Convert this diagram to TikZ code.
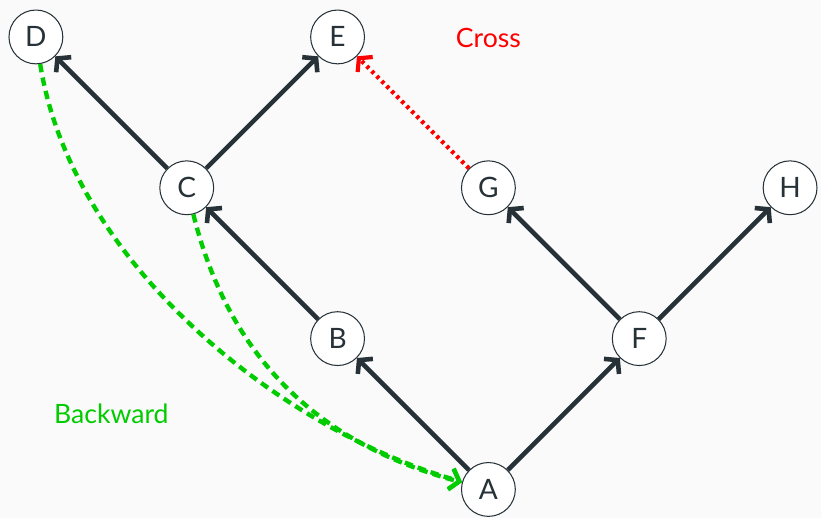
\documentclass[tikz,border=0pt]{standalone}
\usepackage{fontspec}
\setmainfont{Lato}
\usepackage{tikz}
\usetikzlibrary{arrows.meta}
\definecolor{slate}{HTML}{263238}
\definecolor{backgreen}{HTML}{00CC00}
\tikzset{vert/.style={circle, draw=slate, line width=.5pt, fill=white, text=slate, minimum size=9.1mm, inner sep=0, font=\fontsize{13.5}{15}\selectfont}}
\tikzset{treeedge/.style={slate, line width=2.2pt, -{Straight Barb[length=1.5mm,width=3.6mm,line width=2.2pt]}}}
\tikzset{backedge/.style={backgreen, line width=2.1pt, dash pattern=on 4pt off 2.6pt, -{Straight Barb[length=1.5mm,width=3.6mm,line width=2pt]}}}
\tikzset{crossedge/.style={red, line width=2pt, dash pattern=on 1.6pt off 1.8pt, -{Straight Barb[length=1.5mm,width=3.6mm,line width=2pt]}}}

\begin{document}
\begin{tikzpicture}[x=2.55cm,y=2.55cm]
\fill[gray!4] (-0.238,-0.19) rectangle (5.205,3.245);
\foreach \n/\x/\y in {D/0/3, E/2/3, C/1/2, G/3/2, H/5/2, B/2/1, F/4/1, A/3/0} {
 \node[vert] (\n) at (\x,\y) {\n};
}
\foreach \a/\b in {A/B, B/C, C/D, C/E, A/F, F/G, F/H} {
 \draw[treeedge] (\a) -- (\b);
}
\draw[backedge] (D) to[out=-81, in=164, out distance=3.38cm, in distance=3.24cm] (A);
\draw[backedge] (C) to[out=-76, in=165, out distance=2.14cm, in distance=2.86cm] (A);
\draw[crossedge] (G) -- (E);
\node[text=red, font=\fontsize{12.8}{14}\selectfont] (crosslbl) at (3,2.99) {Cross};
\node[text=backgreen, font=\fontsize{12.8}{14}\selectfont] (backlbl) at (0.5,0.5) {Backward};
\end{tikzpicture}
\end{document}
